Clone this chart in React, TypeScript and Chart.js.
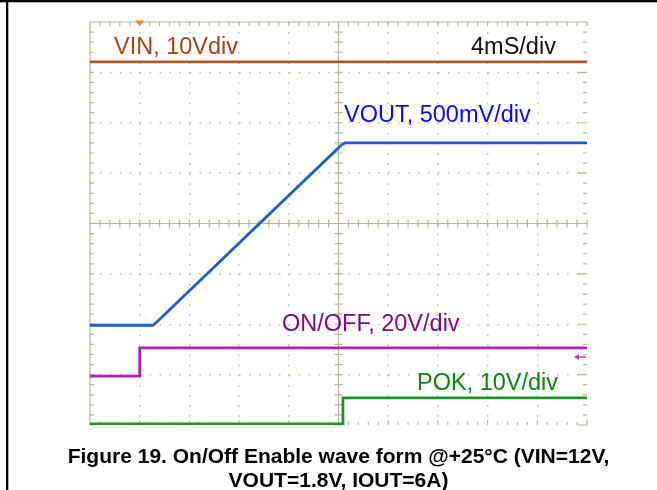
import React, { useEffect, useRef } from "react";
import { Chart, registerables } from "chart.js";

Chart.register(...registerables);

// Time axis in divisions (10 div x 4 ms), vertical axis in divisions (8 div)
const VIN_T = [0, 10];
const VIN_V = [7.21, 7.21];
const VOUT_T = [0, 1.27, 1.35, 5.05, 5.13, 10];
const VOUT_V = [1.98, 1.98, 2.05, 5.55, 5.6, 5.6];
const ONOFF_T = [0, 1.0, 1.0, 10];
const ONOFF_V = [0.97, 0.97, 1.53, 1.53];
const POK_T = [0, 5.09, 5.09, 10];
const POK_V = [0.02, 0.02, 0.54, 0.54];

const SERIES_NAMES = ["VIN, 10Vdiv", "VOUT, 500mV/div", "ON/OFF, 20V/div", "POK, 10V/div"];
const TIMEBASE = "4mS/div";
const CAPTION = ["Figure 19. On/Off Enable wave form @+25°C (VIN=12V,", "VOUT=1.8V, IOUT=6A)"];
const X_DIVS = 10;
const Y_DIVS = 8;
const TRIGGER_T = 1.0;
const ONOFF_REF = 1.35;

const GRID = "#bdb399";
const DOTS = "#c4bba3";
const FONT = '"Liberation Sans", Arial, sans-serif';

const pts = (t: number[], v: number[]) => t.map((x, i) => ({ x, y: v[i] }));

const decor = {
  id: "scopeDecor",
  beforeDatasetsDraw(chart: any) {
    const { ctx, chartArea: a, scales } = chart;
    const xs = scales.x, ys = scales.y;
    ctx.save();
    ctx.strokeStyle = GRID;
    ctx.lineWidth = 1.2;
    const cx = xs.getPixelForValue(X_DIVS / 2);
    const cy = ys.getPixelForValue(Y_DIVS / 2);
    ctx.beginPath();
    // centre cross
    ctx.moveTo(cx, a.top); ctx.lineTo(cx, a.bottom);
    ctx.moveTo(a.left, cy); ctx.lineTo(a.right, cy);
    // top and left border
    ctx.moveTo(a.left, a.top); ctx.lineTo(a.right, a.top);
    ctx.moveTo(a.left, a.top); ctx.lineTo(a.left, a.bottom);
    for (let i = 0; i <= X_DIVS * 5; i++) {
      const px = xs.getPixelForValue(i / 5);
      const major = i % 5 === 0;
      ctx.moveTo(px, cy - 4); ctx.lineTo(px, cy + 4);
      ctx.moveTo(px, a.top); ctx.lineTo(px, a.top + 4);
      ctx.moveTo(px, a.bottom); ctx.lineTo(px, a.bottom - (major ? 5 : 3));
    }
    for (let i = 0; i <= Y_DIVS * 5; i++) {
      const py = ys.getPixelForValue(i / 5);
      const major = i % 5 === 0;
      ctx.moveTo(cx - 4, py); ctx.lineTo(cx + 4, py);
      ctx.moveTo(a.left, py); ctx.lineTo(a.left + 4, py);
      ctx.moveTo(a.right, py); ctx.lineTo(a.right - (major ? 9 : 4), py);
    }
    ctx.stroke();
    ctx.restore();
  },
  afterDatasetsDraw(chart: any) {
    const { ctx, chartArea: a, scales } = chart;
    const xs = scales.x, ys = scales.y;
    ctx.save();
    // outer frame (top and left)
    ctx.fillStyle = "#000";
    ctx.fillRect(0, 0, chart.width, 2.3);
    ctx.fillRect(6, 0, 2.3, chart.height);
    // trigger marker
    const tx = xs.getPixelForValue(TRIGGER_T);
    ctx.fillStyle = "#f57a2a";
    ctx.beginPath();
    ctx.moveTo(tx - 4.5, a.top - 1.5);
    ctx.lineTo(tx + 4.5, a.top - 1.5);
    ctx.lineTo(tx, a.top + 4);
    ctx.closePath();
    ctx.fill();
    // ON/OFF reference arrow
    const ay = ys.getPixelForValue(ONOFF_REF);
    ctx.strokeStyle = "#c040c0";
    ctx.fillStyle = "#c040c0";
    ctx.lineWidth = 1.5;
    ctx.beginPath();
    ctx.moveTo(a.right - 1, ay); ctx.lineTo(a.right - 10, ay);
    ctx.stroke();
    ctx.beginPath();
    ctx.moveTo(a.right - 13, ay);
    ctx.lineTo(a.right - 8, ay - 3);
    ctx.lineTo(a.right - 8, ay + 3);
    ctx.closePath();
    ctx.fill();
    // labels
    ctx.font = `23.5px ${FONT}`;
    ctx.textBaseline = "alphabetic";
    ctx.textAlign = "left";
    ctx.fillStyle = "#a3441a";
    ctx.fillText(SERIES_NAMES[0], 114, 54);
    ctx.fillStyle = "#111";
    ctx.fillText(TIMEBASE, 471, 54);
    ctx.fillStyle = "#0a0af0";
    ctx.fillText(SERIES_NAMES[1], 344, 122);
    ctx.fillStyle = "#7e0a80";
    ctx.fillText(SERIES_NAMES[2], 282, 331);
    ctx.fillStyle = "#0f820f";
    ctx.fillText(SERIES_NAMES[3], 417, 390);
    // caption
    ctx.fillStyle = "#000";
    ctx.font = `bold 21px ${FONT}`;
    ctx.textAlign = "center";
    ctx.fillText(CAPTION[0], 338.5, 463);
    ctx.fillText(CAPTION[1], 338.5, 487);
    ctx.restore();
  },
};

export default function App() {
  const ref = useRef<HTMLCanvasElement>(null);
  useEffect(() => {
    if (!ref.current) return;
    const hideEdges = (limit: number) => (c: any) => {
      const v = c.tick ? c.tick.value : -1;
      return v === 0 || v === limit || v === limit / 2 ? "rgba(0,0,0,0)" : DOTS;
    };
    const line = (data: any, color: string) => ({
      data,
      borderColor: color,
      borderWidth: 2.8,
      pointRadius: 0,
      tension: 0,
      fill: false,
    });
    const chart = new Chart(ref.current, {
      type: "line",
      data: {
        datasets: [
          { label: SERIES_NAMES[0], ...line(pts(VIN_T, VIN_V), "#b3581f") },
          { label: SERIES_NAMES[1], ...line(pts(VOUT_T, VOUT_V), "#1f5ccc") },
          { label: SERIES_NAMES[2], ...line(pts(ONOFF_T, ONOFF_V), "#b020b0") },
          { label: SERIES_NAMES[3], ...line(pts(POK_T, POK_V), "#1e961e") },
        ] as any,
      },
      options: {
        animation: false,
        responsive: false,
        devicePixelRatio: 1,
        layout: { padding: { left: 90, top: 22, right: 70, bottom: 65 } },
        plugins: { legend: { display: false }, tooltip: { enabled: false }, title: { display: false } },
        scales: {
          x: {
            type: "linear",
            min: 0,
            max: X_DIVS,
            ticks: { display: false, stepSize: 1 },
            grid: { color: hideEdges(X_DIVS), lineWidth: 1.5, drawTicks: false },
            border: { display: false, dash: [1.6, 8.48] },
            afterFit: (s: any) => { s.height = 0; },
          },
          y: {
            type: "linear",
            min: 0,
            max: Y_DIVS,
            ticks: { display: false, stepSize: 1 },
            grid: { color: hideEdges(Y_DIVS), lineWidth: 1.5, drawTicks: false },
            border: { display: false, dash: [1.6, 8.34] },
            afterFit: (s: any) => { s.width = 0; },
          },
        },
      } as any,
      plugins: [decor],
    });
    return () => chart.destroy();
  }, []);
  return (
    <div style={{ position: "absolute", left: 0, top: 0, width: 657, height: 490, background: "#fff" }}>
      <canvas ref={ref} width={657} height={490} style={{ display: "block", width: 657, height: 490 }} />
    </div>
  );
}
